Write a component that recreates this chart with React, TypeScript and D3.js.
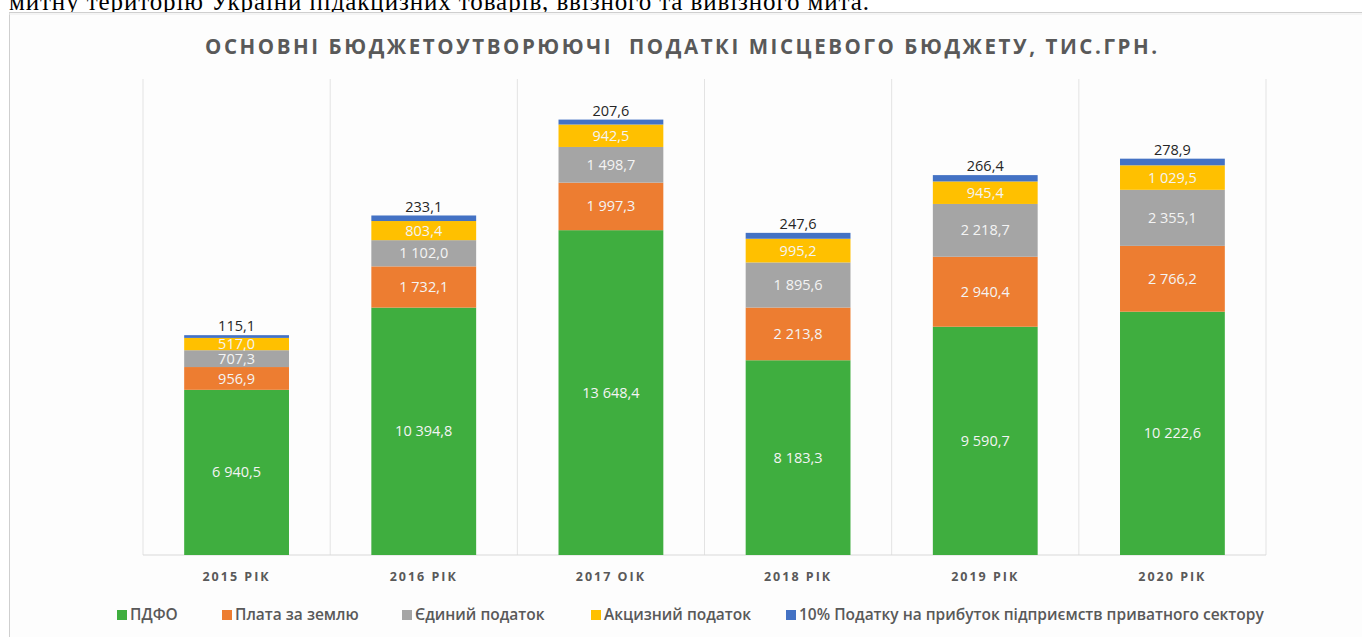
import React from 'react';
import * as d3 from 'd3';

const years = ['2015 РІК', '2016 РІК', '2017 ОІК', '2018 РІК', '2019 РІК', '2020 РІК'];
const pdfo = [6940.5, 10394.8, 13648.4, 8183.3, 9590.7, 10222.6];
const landFee = [956.9, 1732.1, 1997.3, 2213.8, 2940.4, 2766.2];
const singleTax = [707.3, 1102.0, 1498.7, 1895.6, 2218.7, 2355.1];
const exciseTax = [517.0, 803.4, 942.5, 995.2, 945.4, 1029.5];
const profitTax = [115.1, 233.1, 207.6, 247.6, 266.4, 278.9];

const seriesNames = ['ПДФО', 'Плата за землю', 'Єдиний податок', 'Акцизний податок', '10% Податку на прибуток підприємств приватного сектору'];
const seriesKeys = ['pdfo', 'land', 'single', 'excise', 'profit'];
const seriesValues = [pdfo, landFee, singleTax, exciseTax, profitTax];
const colors = ['#3fae3f', '#ed7d31', '#a5a5a5', '#ffc000', '#4472c4'];

const title = 'ОСНОВНІ БЮДЖЕТОУТВОРЮЮЧІ  ПОДАТКІ МІСЦЕВОГО БЮДЖЕТУ, ТИС.ГРН.';
const topText = 'митну територію України підакцизних товарів, ввізного та вивізного мита.';

const W = 1362;
const H = 637;
const plot = { left: 143, right: 1266, top: 79, bottom: 555 };
const legendX = [117, 222, 402, 591, 786];
const FONT = '"Open Sans", "Noto Sans", sans-serif';

const locale = d3.formatLocale({ decimal: ',', thousands: ' ', grouping: [3], currency: ['', ''] });
const fmt = locale.format(',.1f');

export default function App() {
  const rows = years.map((y, i) => {
    const r: any = { year: y };
    seriesKeys.forEach((k, j) => (r[k] = seriesValues[j][i]));
    return r;
  });
  const stacked = d3.stack().keys(seriesKeys)(rows);

  const x = d3.scaleBand().domain(years).range([plot.left, plot.right]).paddingInner(0.44).paddingOuter(0.22);
  const y = d3.scaleLinear().domain([0, 20000]).range([plot.bottom, plot.top]);
  const step = x.step();
  const bounds = d3.range(years.length + 1).map((i) => plot.left + i * step);

  return (
    <svg width={W} height={H} style={{ position: 'absolute', left: 0, top: 0, display: 'block', background: '#fff' }}>
      <text x={9} y={10} fontFamily='"Liberation Serif", "Times New Roman", serif' fontSize={25} fill="#000" textLength={860} lengthAdjust="spacing">
        {topText}
      </text>
      <rect x={9.5} y={12.5} width={1400} height={700} fill="#fdfdfd" stroke="#cfcfcf" />
      <line x1={9} x2={1400} y1={14} y2={14} stroke="#ececec" />
      <text x={681} y={47} dy="0.35em" textAnchor="middle" fontFamily={FONT} fontWeight={700} fontSize={20.5} fill="#595959" textLength={952} lengthAdjust="spacing" style={{ whiteSpace: 'pre' }}>
        {title}
      </text>
      {bounds.map((bx, i) => (
        <line key={'g' + i} x1={bx} x2={bx} y1={plot.top} y2={plot.bottom} stroke="#e3e3e3" strokeWidth={1} />
      ))}
      <line x1={plot.left} x2={plot.right} y1={plot.bottom} y2={plot.bottom} stroke="#d9d9d9" />
      {stacked.map((s, si) => (
        <g key={s.key}>
          {s.map((d: any, i) => (
            <rect key={i} x={x(years[i])} y={y(d[1])} width={x.bandwidth()} height={y(d[0]) - y(d[1])} fill={colors[si]} />
          ))}
        </g>
      ))}
      {stacked.map((s, si) =>
        s.map((d: any, i) => {
          const cx = (x(years[i]) as number) + x.bandwidth() / 2;
          const v = seriesValues[si][i];
          if (si === 4) {
            return (
              <text key={s.key + i} x={cx} y={y(d[1]) - 9} dy="0.35em" textAnchor="middle" fontFamily={FONT} fontSize={14.5} fill="#262626">
                {fmt(v)}
              </text>
            );
          }
          return (
            <text key={s.key + i} x={cx} y={(y(d[0]) + y(d[1])) / 2} dy="0.35em" textAnchor="middle" fontFamily={FONT} fontSize={14.5} fill="#f4f4f4">
              {fmt(v)}
            </text>
          );
        })
      )}
      {years.map((yr) => (
        <text key={yr} x={(x(yr) as number) + x.bandwidth() / 2} y={577} dy="0.35em" textAnchor="middle" fontFamily={FONT} fontWeight={700} fontSize={12.5} letterSpacing={2} fill="#595959">
          {yr}
        </text>
      ))}
      {seriesNames.map((n, i) => (
        <g key={n}>
          <rect x={legendX[i]} y={610} width={10} height={10} fill={colors[i]} />
          <text x={legendX[i] + 13} y={615} dy="0.35em" fontFamily={FONT} fontWeight={600} fontSize={15.5} fill="#595959">
            {n}
          </text>
        </g>
      ))}
    </svg>
  );
}
